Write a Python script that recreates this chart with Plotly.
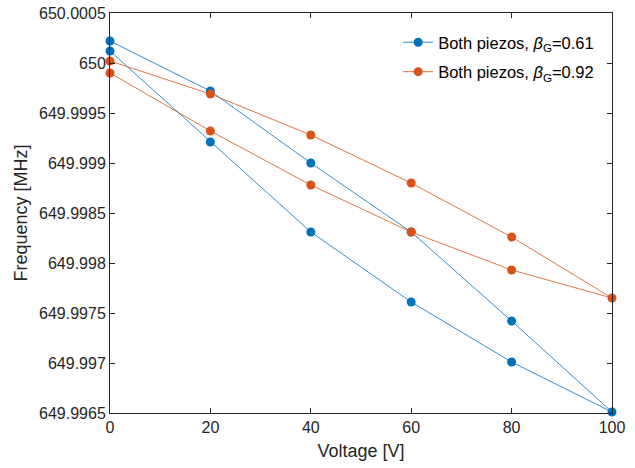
import plotly.graph_objects as go

# Voltage sweep up then down
voltage = [0, 20, 40, 60, 80, 100, 80, 60, 40, 20, 0]
freq_061 = [650.00022, 649.99972, 649.99900, 649.99831, 649.99742, 649.99651,
            649.99701, 649.99761, 649.99831, 649.99921, 650.00012]
freq_092 = [650.00002, 649.99969, 649.99928, 649.99880, 649.99826, 649.99765,
            649.99793, 649.99831, 649.99878, 649.99932, 649.99990]

names = ["Both piezos, <i>β</i><sub>G</sub>=0.61", "Both piezos, <i>β</i><sub>G</sub>=0.92"]
colors = ["#0072BD", "#D95319"]

x_ticks = [0, 20, 40, 60, 80, 100]
y_ticks = [649.9965, 649.997, 649.9975, 649.998, 649.9985, 649.999, 649.9995, 650.0, 650.0005]
y_ticktext = ["649.9965", "649.997", "649.9975", "649.998", "649.9985", "649.999", "649.9995", "650", "650.0005"]

fig = go.Figure()
for i, (yv, nm, c) in enumerate(zip([freq_061, freq_092], names, colors)):
    fig.add_trace(go.Scatter(
        x=voltage, y=yv, name=nm, mode="lines+markers",
        line=dict(color=c, width=0.8),
        marker=dict(color=c, size=9),
        legendgroup=f"g{i}", cliponaxis=False,
    ))

axis_common = dict(
    showline=True, linecolor="#262626", linewidth=1, mirror="allticks",
    ticks="inside", ticklen=5, tickcolor="#262626", showgrid=False, zeroline=False,
    automargin=False, ticklabeloverflow="allow",
    tickfont=dict(family="Liberation Sans, Arial", size=16, color="#262626"),
)

fig.update_layout(
    width=635, height=468,
    margin=dict(l=110, r=23, t=13, b=55),
    paper_bgcolor="white", plot_bgcolor="white",
    font=dict(family="Liberation Sans, Arial", color="#262626"),
    xaxis=dict(range=[0, 100], tickvals=x_ticks,
               title=dict(text="Voltage [V]", font=dict(size=18, color="#262626"), standoff=9),
               **axis_common),
    yaxis=dict(range=[649.9965, 650.0005], tickvals=y_ticks, ticktext=y_ticktext,
               title=dict(text="Frequency [MHz]", font=dict(size=18, color="#262626"), standoff=6),
               **axis_common),
    legend=dict(x=0.574, y=0.97, xanchor="left", yanchor="top",
                font=dict(size=16.5, color="#000000"), bgcolor="rgba(255,255,255,0)",
                borderwidth=0, traceorder="grouped", tracegroupgap=5),
    showlegend=True,
)

fig.write_html("out.html", config={"displayModeBar": False},
               post_script="document.body.style.margin='0';")
